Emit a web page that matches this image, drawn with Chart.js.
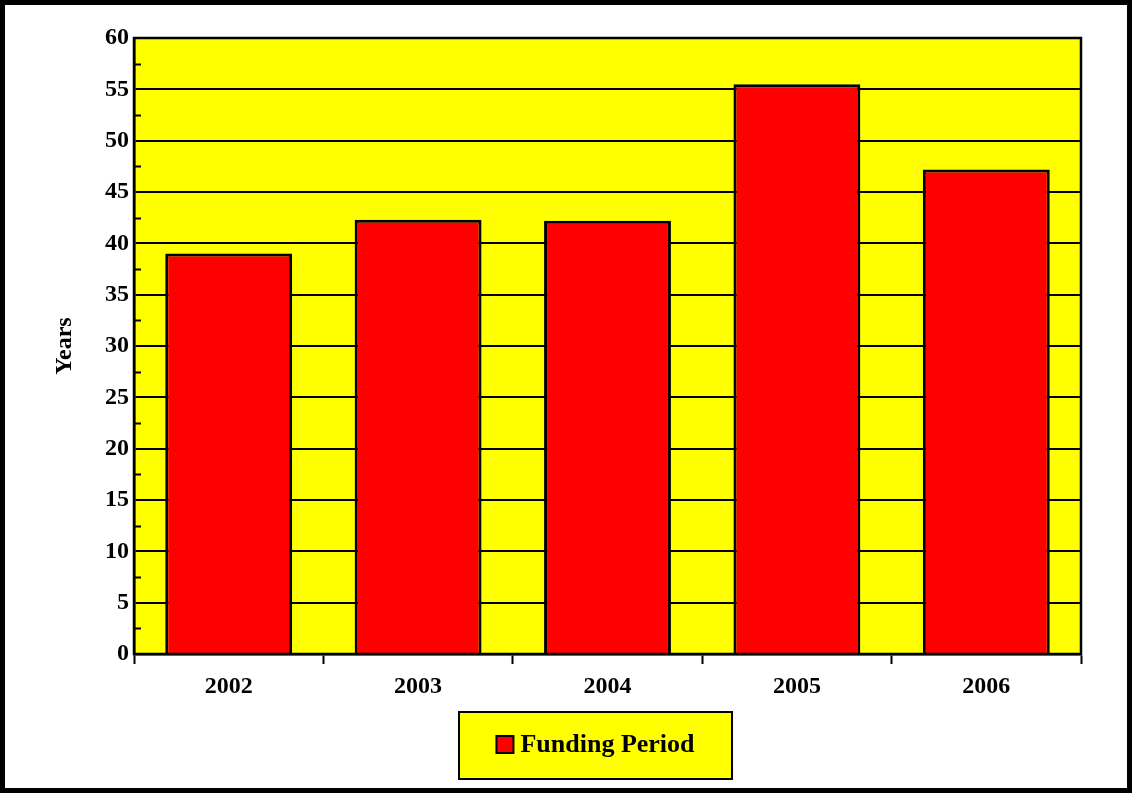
<!DOCTYPE html>
<html>
<head>
<meta charset="utf-8">
<script src="https://cdn.jsdelivr.net/npm/chart.js@4/dist/chart.umd.min.js"></script>
<style>
  html, body { margin: 0; padding: 0; background: #fff; }
  #wrap { width: 1133px; height: 794px; position: relative; }
</style>
</head>
<body>
<div id="wrap"><canvas id="fundingChart"></canvas></div>
<script>
// data
const years = ['2002', '2003', '2004', '2005', '2006'];
const fundingPeriod = [39.0, 42.3, 42.2, 55.5, 47.2];
const seriesLabel = 'Funding Period';
const axisTitle = 'Years';

const FONT = "'Liberation Serif', 'Times New Roman', serif";

// frame, yellow plot background, minor ticks, border and boxed legend
const decorPlugin = {
    id: 'decor',
    beforeDraw(chart) {
        const { ctx, chartArea: a } = chart;
        ctx.save();
        ctx.fillStyle = '#ffff00';
        ctx.fillRect(a.left, a.top, a.right - a.left, a.bottom - a.top);
        ctx.restore();
    },
    afterDraw(chart) {
        const { ctx, chartArea: a, width, height } = chart;
        const y = chart.scales.y;
        ctx.save();
        ctx.strokeStyle = '#000';

        // minor ticks pointing into the plot
        ctx.lineWidth = 2;
        y.ticks.forEach(t => {
            if (t.value % 5 === 0) return;
            const py = Math.round(y.getPixelForValue(t.value)) + 0.5;
            ctx.beginPath();
            ctx.moveTo(a.left, py);
            ctx.lineTo(a.left + 7, py);
            ctx.stroke();
        });

        // plot border
        ctx.lineWidth = 2.5;
        ctx.strokeRect(a.left, a.top, a.right - a.left, a.bottom - a.top);

        // outer frame
        ctx.lineWidth = 5;
        ctx.strokeRect(2.5, 2.5, width - 6, height - 6);

        // legend box
        const ds = chart.data.datasets[0];
        const bx = 459, by = 712, bw = 273, bh = 67;
        ctx.fillStyle = '#ffff00';
        ctx.fillRect(bx, by, bw, bh);
        ctx.lineWidth = 2;
        ctx.strokeRect(bx, by, bw, bh);

        ctx.font = `bold 26px ${FONT}`;
        const tw = ctx.measureText(ds.label).width;
        const sw = 17, gap = 7;
        const startX = bx + (bw - (sw + gap + tw)) / 2;
        const cy = by + bh / 2;
        ctx.fillStyle = ds.backgroundColor;
        ctx.fillRect(startX, cy - sw / 2 - 1, sw, sw);
        ctx.lineWidth = 2;
        ctx.strokeRect(startX, cy - sw / 2 - 1, sw, sw);
        ctx.fillStyle = '#000';
        ctx.textBaseline = 'middle';
        ctx.textAlign = 'left';
        ctx.fillText(ds.label, startX + sw + gap, cy);
        ctx.restore();
    }
};

new Chart(document.getElementById('fundingChart'), {
    type: 'bar',
    data: {
        labels: years,
        datasets: [{
            label: seriesLabel,
            data: fundingPeriod,
            backgroundColor: '#ff0000',
            borderColor: '#000000',
            borderWidth: 3,
            barPercentage: 0.67,
            categoryPercentage: 1.0
        }]
    },
    options: {
        responsive: true,
        maintainAspectRatio: false,
        animation: false,
        layout: { padding: { left: 0, top: 38, right: 52, bottom: 0 } },
        plugins: {
            legend: { display: false },
            tooltip: { enabled: false }
        },
        scales: {
            x: {
                afterFit(scale) { scale.height = 140; },
                grid: {
                    offset: true,
                    drawOnChartArea: false,
                    drawTicks: true,
                    tickLength: 10,
                    tickWidth: 2,
                    tickColor: '#000'
                },
                border: { display: true, color: '#000', width: 2.5 },
                ticks: {
                    color: '#000',
                    padding: 8,
                    font: { family: FONT, size: 24, weight: 'bold' }
                }
            },
            y: {
                min: 0,
                max: 60,
                afterFit(scale) { scale.width = 134; },
                ticks: {
                    stepSize: 2.5,
                    autoSkip: false,
                    color: '#000',
                    padding: 5,
                    font: { family: FONT, size: 24, weight: 'bold' },
                    callback: v => (v % 5 === 0 ? v : '')
                },
                grid: {
                    drawTicks: false,
                    lineWidth: 2,
                    color: ctx => (ctx.tick && ctx.tick.value % 5 === 0 ? '#000' : 'rgba(0,0,0,0)')
                },
                border: { display: true, color: '#000', width: 2.5 },
                title: {
                    display: true,
                    text: axisTitle,
                    color: '#000',
                    padding: { top: 50, bottom: 0 },
                    font: { family: FONT, size: 24, weight: 'bold' }
                }
            }
        }
    },
    plugins: [decorPlugin]
});
</script>
</body>
</html>
